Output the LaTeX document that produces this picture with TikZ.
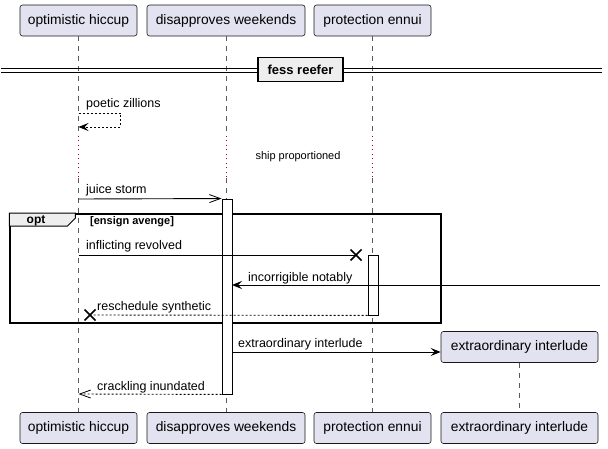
\documentclass[tikz,border=0pt]{standalone}
\usepackage{fontspec}
\setmainfont{Liberation Sans}
\usetikzlibrary{arrows.meta}
\definecolor{partfill}{RGB}{226,226,240}
\definecolor{partline}{RGB}{24,24,24}
\definecolor{lifegray}{RGB}{90,90,90}
\definecolor{delayred}{RGB}{168,0,54}
\definecolor{tabfill}{RGB}{238,238,238}
\tikzset{
  part/.style={draw=partline, fill=partfill, line width=0.6pt, rounded corners=2.5pt,
    minimum height=31pt, inner sep=0pt, font=\fontsize{13.8}{16}\selectfont},
  life/.style={draw=lifegray, line width=0.6pt, dash pattern=on 5pt off 5pt},
  delayline/.style={draw=delayred, line width=0.9pt, dash pattern=on 1pt off 3.5pt},
  msgtxt/.style={inner sep=0pt, anchor=base west, font=\fontsize{12.5}{14}\selectfont},
  msgline/.style={draw=black, line width=0.9pt},
  retline/.style={draw=black, line width=0.9pt, dash pattern=on 2pt off 2pt},
  filledhead/.style={-{Stealth[length=10pt,width=8pt,inset=4pt]}},
  openhead/.style={-{Straight Barb[length=11pt,width=8pt,line width=0.8pt]}},
  actbox/.style={draw=black, fill=white, line width=0.9pt},
  xm/.style={draw=black, line width=1.6pt},
}
\begin{document}
\begin{tikzpicture}[x=1pt,y=-1pt]
\useasboundingbox (0,0) rectangle (608,449);
% participants
\node[part, minimum width=117pt] (At) at (78.5,20.5) {optimistic hiccup};
\node[part, minimum width=158pt] (Bt) at (226,20.5) {disapproves weekends};
\node[part, minimum width=117pt] (Ct) at (372.5,20.5) {protection ennui};
\node[part, minimum width=117pt] (Ab) at (78.5,428) {optimistic hiccup};
\node[part, minimum width=158pt] (Bb) at (226,428) {disapproves weekends};
\node[part, minimum width=117pt] (Cb) at (372.5,428) {protection ennui};
\node[part, minimum width=157pt] (Dt) at (519.5,347) {extraordinary interlude};
\node[part, minimum width=157pt] (Db) at (519.5,428) {extraordinary interlude};
% lifelines with delay
\coordinate (A1) at (78.5,136); \coordinate (A2) at (78.5,178);
\coordinate (B1) at (226,136); \coordinate (B2) at (226,178);
\coordinate (C1) at (372.5,136); \coordinate (C2) at (372.5,178);
\draw[life] (At.south) -- (A1); \draw[delayline] (A1) -- (A2); \draw[life] (A2) -- (Ab.north);
\draw[life] (Bt.south) -- (B1); \draw[delayline] (B1) -- (B2); \draw[life] (B2) -- (Bb.north);
\draw[life] (Ct.south) -- (C1); \draw[delayline] (C1) -- (C2); \draw[life] (C2) -- (Cb.north);
\draw[life] (Dt.south) -- (Db.north);
% divider
\coordinate (dvL) at (1,68); \coordinate (dvR) at (602,68);
\draw[line width=0.9pt] (dvL) -- (dvR);
\draw[line width=0.9pt] ([yshift=-4pt]dvL) -- ([yshift=-4pt]dvR);
\node[draw=black, fill=tabfill, line width=1.8pt, minimum width=85pt, minimum height=24pt,
  inner sep=0pt, font=\bfseries\fontsize{13}{15}\selectfont] (div) at (300.5,69.5) {fess reefer};
% delay text
\node[inner sep=0pt, font=\fontsize{11}{13}\selectfont] (delay) at (298,157) {ship proportioned};
% poetic zillions (self message)
\coordinate (s1) at (78.5,113); \coordinate (s2) at (120,113);
\coordinate (s3) at (120,127); \coordinate (s4) at (78.5,127);
\draw[retline, filledhead] (s1) -- (s2) -- (s3) -- (s4);
\node[msgtxt] (m1) at (86,108) {poetic zillions};
% opt frame
\node[draw=black, line width=1.5pt, minimum width=431pt, minimum height=109pt, inner sep=0pt]
  (opt) at (225.5,268.5) {};
\draw[fill=tabfill, line width=1pt] (opt.north west) -- ++(66,0) -- ++(0,5) -- ++(-8,8) -- ++(-58,0) -- cycle;
\node[inner sep=0pt, font=\bfseries\fontsize{12}{14}\selectfont] (optlbl) at (36,220.5) {opt};
\node[inner sep=0pt, anchor=base west, font=\bfseries\fontsize{11}{13}\selectfont] (guard) at (90,224.5) {[ensign avenge]};
% activations
\node[actbox, minimum width=10pt, minimum height=195pt, inner sep=0pt] (actB) at (227,296.5) {};
\node[actbox, minimum width=10pt, minimum height=60pt, inner sep=0pt] (actC) at (373,285) {};
% juice storm
\coordinate (j1) at (78.5,199);
\draw[msgline, openhead] (j1) -- (actB.north west);
\node[msgtxt] (m2) at (86,194) {juice storm};
% inflicting revolved
\coordinate (i1) at (78.5,255); \coordinate (X1) at (356,255);
\draw[msgline] (i1) -- (X1);
\draw[xm] (X1) ++(-5.5,-5.5) -- ++(11,11) (X1) ++(-5.5,5.5) -- ++(11,-11);
\node[msgtxt] (m3) at (86,250) {inflicting revolved};
% incorrigible notably
\coordinate (f1) at (600,285); \coordinate (f2) at (232,285);
\draw[msgline, filledhead] (f1) -- (f2);
\node[msgtxt] (m4) at (248,281) {incorrigible notably};
% reschedule synthetic
\coordinate (X2) at (90,315);
\draw[retline] (actC.south west) -- (X2);
\draw[xm] (X2) ++(-5.5,-5.5) -- ++(11,11) (X2) ++(-5.5,5.5) -- ++(11,-11);
\node[msgtxt] (m5) at (97,310) {reschedule synthetic};
% extraordinary interlude
\coordinate (e1) at (232,352);
\draw[msgline, filledhead] (e1) -- (Dt.west |- e1);
\node[msgtxt] (m6) at (238,347) {extraordinary interlude};
% crackling inundated
\coordinate (c2) at (78.5,394);
\draw[retline, openhead] (actB.south west) -- (c2);
\node[msgtxt] (m7) at (97,390) {crackling inundated};
\end{tikzpicture}
\end{document}
